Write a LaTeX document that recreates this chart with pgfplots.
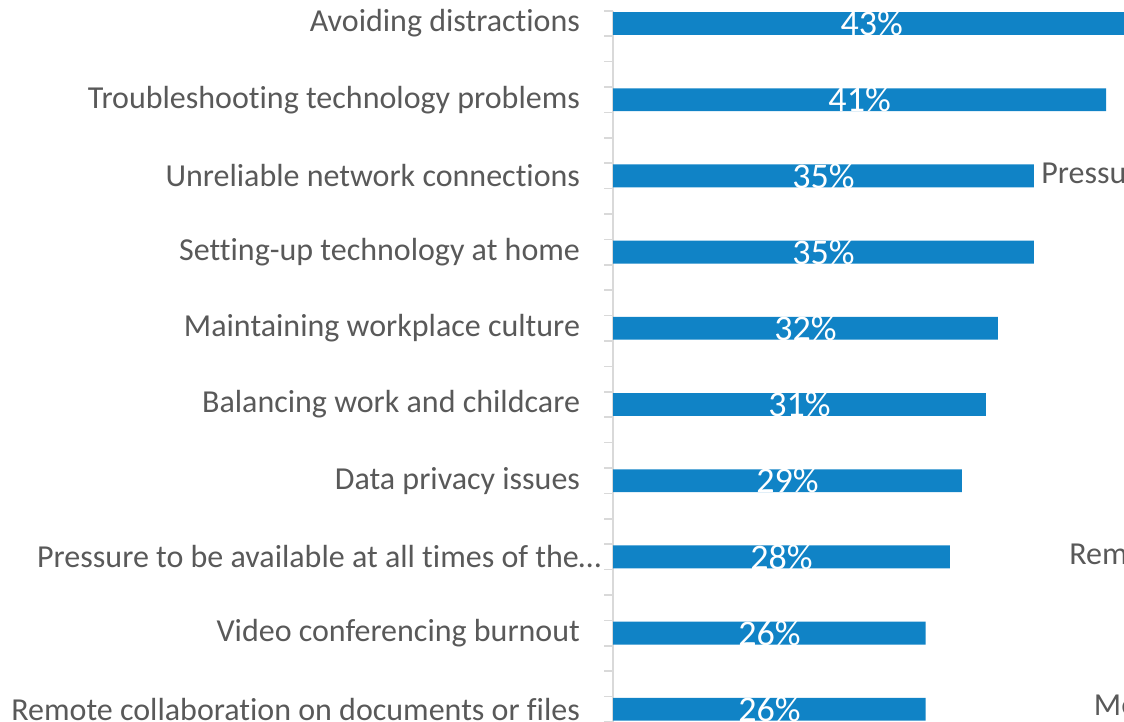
\documentclass[border=0pt]{standalone}
\usepackage{pgfplots}
\pgfplotsset{compat=1.18}
\usepackage{pgfplotstable}
\usepackage{fontspec}
\setmainfont{Carlito}[Ligatures={NoCommon,NoContextual}]
\definecolor{barblue}{HTML}{1083C6}
\definecolor{axisgray}{HTML}{D9D9D9}
\definecolor{labelgray}{HTML}{595959}
\pgfplotstableread{
y v
0 43
1 41
2 35
3 35
4 32
5 31
6 29
7 28
8 26
9 26
}\datatable
\begin{document}
\begin{tikzpicture}
\useasboundingbox (0,0) rectangle (562pt,361pt);
\clip (0,0) rectangle (562pt,361pt);
\begin{axis}[
  at={(306.6pt,355.6pt)}, anchor=north west,
  scale only axis, width=270.45pt, height=368.3pt,
  xmin=0, xmax=45, ymin=-0.16667, ymax=9.5,
  y dir=reverse,
  axis x line=none, axis y line*=left,
  axis line style={draw=axisgray, line width=0.75pt},
  ytick={0,1,2,3,4,5,6,7,8,9},
  yticklabels={Avoiding distractions,Troubleshooting technology problems,Unreliable network connections,Setting-up technology at home,Maintaining workplace culture,Balancing work and childcare,Data privacy issues,{Pressure to be available at all times of the…\hspace*{-10.5pt}},Video conferencing burnout,Remote collaboration on documents or files},
  minor ytick={-0.16667,0.16667,0.5,0.83333,1.16667,1.5,1.83333,2.16667,2.5,2.83333,3.16667,3.5,3.83333,4.16667,4.5,4.83333,5.16667,5.5,5.83333,6.16667,6.5,6.83333,7.16667,7.5,7.83333,8.16667,8.5,8.83333,9.16667,9.5},
  major tick length=0pt, minor tick length=4.5pt,
  tick align=outside, ytick pos=left,
  minor tick style={draw=axisgray, line width=0.75pt},
  yticklabel style={anchor=east, inner sep=0pt, font=\fontsize{16}{18}\selectfont, text=labelgray},
  yticklabel shift=16.4pt,
]
\addplot[xbar, bar width=0.3, fill=barblue, draw=none] table[x=v, y=y] {\datatable};
\addplot[draw=none, nodes near coords={\pgfplotspointmeta\%}, point meta=explicit symbolic,
  every node near coord/.append style={anchor=center, inner sep=0pt, text=white, font=\fontsize{18}{20}\selectfont}]
  table[x expr=\thisrow{v}/2, y=y, meta=v] {\datatable};
\end{axis}
\node[anchor=base west, inner sep=0pt, text=labelgray, font=\fontsize{16}{18}\selectfont] at (520.5pt,269pt) {Pressu};
\node[anchor=base west, inner sep=0pt, text=labelgray, font=\fontsize{16}{18}\selectfont] at (534.5pt,78.5pt) {Rem};
\node[anchor=base west, inner sep=0pt, text=labelgray, font=\fontsize{16}{18}\selectfont] at (546.75pt,3pt) {Me};
\end{tikzpicture}
\end{document}
